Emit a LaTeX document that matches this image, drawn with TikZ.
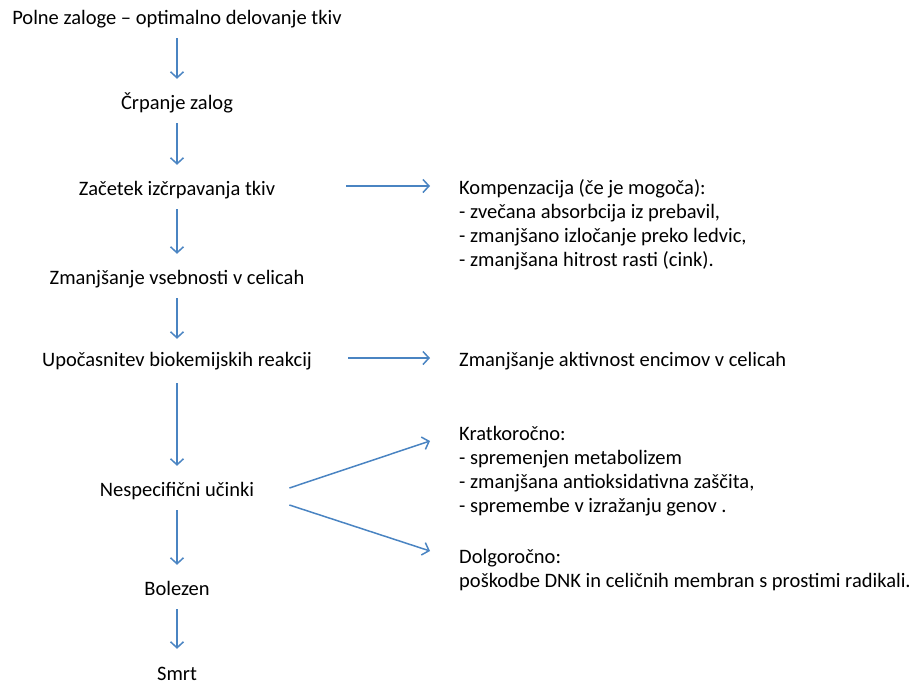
\documentclass[tikz,border=0pt]{standalone}
\usepackage{fontspec}
\setmainfont{Carlito}
\usetikzlibrary{arrows.meta}
\definecolor{modra}{HTML}{4A84C2}

\begin{document}
\begin{tikzpicture}[x=1pt,y=-1pt,
    besedilo/.style={font=\fontsize{20.5}{24}\selectfont, inner sep=0pt,
        text height=13pt, text depth=4pt, anchor=base},
    blok/.style={font=\fontsize{20.5}{24}\selectfont, inner sep=0pt,
        align=left, anchor=north west},
    puscica/.style={draw=modra, line width=1.5pt,
        -{Straight Barb[length=6pt,width=13pt]}},
    navpicna/.style={puscica, shorten <=10pt, shorten >=17pt}]
    \useasboundingbox (0,0) rectangle (914,683);

    % Levi stolpec
    \node[besedilo] (polne)   at (177,24)  {Polne zaloge – optimalno delovanje tkiv};
    \node[besedilo] (crpanje) at (177,109) {Črpanje zalog};
    \node[besedilo] (zacetek) at (177,195) {Začetek izčrpavanja tkiv};
    \node[besedilo] (zmanj)   at (177,284) {Zmanjšanje vsebnosti v celicah};
    \node[besedilo] (upoc)    at (177,366) {Upočasnitev biokemijskih reakcij};
    \node[besedilo] (nespec)  at (177,496) {Nespecifični učinki};
    \node[besedilo] (bolezen) at (177,595) {Bolezen};
    \node[besedilo] (smrt)    at (177,680) {Smrt};

    % Desni stolpec (prva vrstica ima \strut, vrh = osnovnica - 16.8pt)
    \node[blok] (komp) at (459,177) {\strut Kompenzacija (če je mogoča):\\
        - zvečana absorbcija iz prebavil,\\
        - zmanjšano izločanje preko ledvic,\\
        - zmanjšana hitrost rasti (cink).};
    \node[blok] (encimi) at (459,349) {\strut Zmanjšanje aktivnost encimov v celicah};
    \node[blok] (kratko) at (459,423) {\strut Kratkoročno:\\
        - spremenjen metabolizem\\
        - zmanjšana antioksidativna zaščita,\\
        - spremembe v izražanju genov .};
    \node[blok] (dolgo) at (459,546) {\strut Dolgoročno:\\
        poškodbe DNK in celičnih membran s prostimi radikali.};

    % Navpične puščice
    \draw[navpicna] (polne.south) -- (crpanje.north);
    \draw[navpicna] (crpanje.south) -- (zacetek.north);
    \draw[navpicna] (zacetek.south) -- (zmanj.north);
    \draw[navpicna, shorten >=14pt] (zmanj.south) -- (upoc.north);
    \draw[navpicna, shorten <=13pt] (upoc.south) -- (nespec.north);
    \draw[navpicna] (nespec.south) -- (bolezen.north);
    \draw[navpicna, shorten >=18pt] (bolezen.south) -- (smrt.north);

    % Vodoravne puščici
    \draw[puscica] ([xshift=71pt,yshift=9pt]zacetek.base east)
        -- ([xshift=-29pt,yshift=-9pt]komp.north west);
    \draw[puscica] ([xshift=36pt,yshift=8pt]upoc.base east)
        -- ([xshift=-29pt,yshift=-9pt]encimi.north west);

    % Poševni puščici
    \draw[puscica] ([xshift=35pt,yshift=8pt]nespec.base east)
        -- ([xshift=-29pt,yshift=-18pt]kratko.north west);
    \draw[puscica] ([xshift=35pt,yshift=-9pt]nespec.base east)
        -- ([xshift=-29pt,yshift=-5pt]dolgo.north west);
\end{tikzpicture}
\end{document}
